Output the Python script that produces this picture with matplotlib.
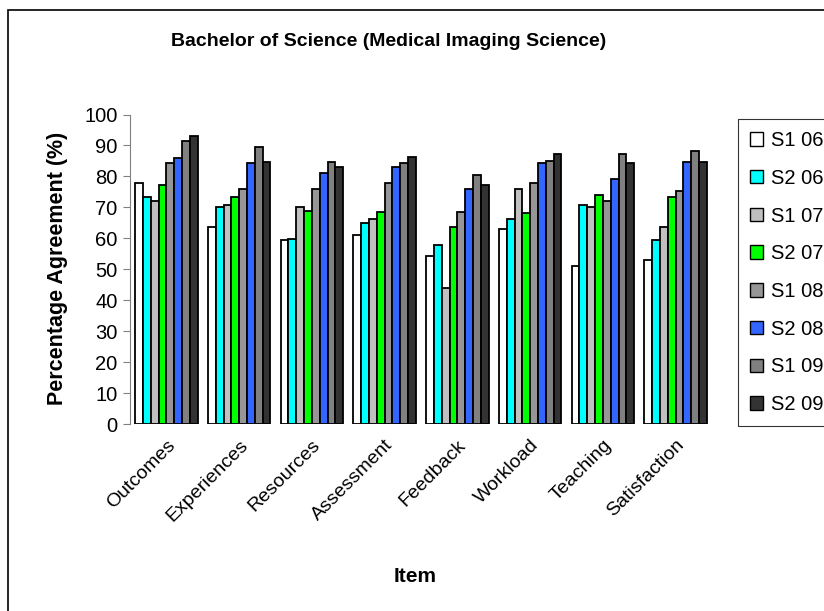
import numpy as np
import matplotlib
matplotlib.use("Agg")
import matplotlib.pyplot as plt
from matplotlib.patches import Rectangle

plt.rcParams['font.family'] = ['Liberation Sans', 'DejaVu Sans']

# survey items and semesters
items = ['Outcomes', 'Experiences', 'Resources', 'Assessment',
         'Feedback', 'Workload', 'Teaching', 'Satisfaction']
semesters = ['S1 06', 'S2 06', 'S1 07', 'S2 07', 'S1 08', 'S2 08', 'S1 09', 'S2 09']

# percentage agreement per semester (one value per item)
s1_06 = [77.9, 63.8, 59.3, 61.2, 54.2, 63.1, 51.0, 52.9]
s2_06 = [73.2, 70.1, 59.9, 64.9, 58.0, 66.3, 70.8, 59.3]
s1_07 = [72.2, 70.8, 70.2, 66.3, 44.1, 75.9, 70.1, 63.8]
s2_07 = [77.1, 73.4, 68.9, 68.4, 63.7, 68.2, 74.0, 73.4]
s1_08 = [84.2, 75.9, 75.9, 77.9, 68.4, 77.9, 72.2, 75.3]
s2_08 = [86.1, 84.3, 81.0, 82.9, 75.9, 84.2, 79.2, 84.8]
s1_09 = [91.3, 89.4, 84.8, 84.2, 80.5, 84.9, 87.4, 88.1]
s2_09 = [93.0, 84.8, 82.9, 86.2, 77.2, 87.4, 84.2, 84.8]

series = [s1_06, s2_06, s1_07, s2_07, s1_08, s2_08, s1_09, s2_09]
colors = ['#FFFFFF', '#00FFFF', '#C0C0C0', '#00FF00',
          '#969696', '#3366FF', '#808080', '#333333']

fig = plt.figure(figsize=(8.24, 6.11), dpi=100)
ax = fig.add_axes([0.1578, 0.306, 0.7063, 0.5066])

x = np.arange(len(items))
group_w = 0.86
bar_w = group_w / len(series)
for i, (vals, c, lab) in enumerate(zip(series, colors, semesters)):
    offs = -group_w / 2 + bar_w * (i + 0.5)
    ax.bar(x + offs, vals, width=bar_w, color=c, edgecolor='black',
           linewidth=1.3, label=lab)

ax.set_xlim(-0.5, len(items) - 0.5)
ax.set_ylim(0, 100)
ax.set_yticks(range(0, 101, 10))
ax.tick_params(axis='y', labelsize=14.5, length=5, color='#808080',
               direction='out', pad=4)
ax.set_xticks(x)
ax.set_xticklabels(items, rotation=45, ha='right', rotation_mode='anchor', fontsize=14)
ax.tick_params(axis='x', length=0, pad=9)
for s in ['top', 'right', 'bottom']:
    ax.spines[s].set_visible(False)
ax.spines['left'].set_color('#808080')

fig.text(389 / 824, 1 - 42 / 611, 'Bachelor of Science (Medical Imaging Science)',
         ha='center', va='center', fontsize=14, fontweight='bold')
fig.text(58 / 824, 1 - 268 / 611, 'Percentage Agreement (%)', rotation=90,
         ha='center', va='center', fontsize=15.5, fontweight='bold')
fig.text(415 / 824, 1 - 577 / 611, 'Item', ha='center', va='center',
         fontsize=15, fontweight='bold')

leg = fig.legend(loc='upper left', bbox_to_anchor=(738 / 824, 1 - 119 / 611),
                 fontsize=14.5, frameon=True, fancybox=False, edgecolor='black',
                 handlelength=0.65, handleheight=0.65, handletextpad=0.4,
                 labelspacing=0.93, borderpad=0.6, borderaxespad=0)
leg.get_frame().set_linewidth(0.8)
for h in leg.legend_handles:
    h.set_linewidth(1.0)

# outer chart border (only left and top visible in the crop)
fig.patches.append(Rectangle((8 / 824, -0.1), 1.2, 1 - 10 / 611 + 0.1,
                             transform=fig.transFigure, fill=False,
                             edgecolor='black', linewidth=1.2))

fig.savefig('out.png', dpi=100)
